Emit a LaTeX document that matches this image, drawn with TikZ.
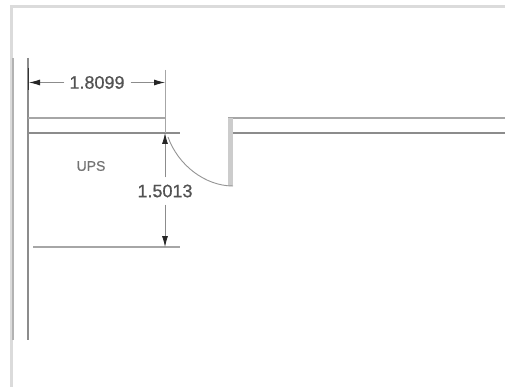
\documentclass[tikz,border=0pt]{standalone}
\usepackage{fontspec}
\setmainfont{Liberation Sans}
\newfontfamily\dimfont[FakeBold=0.6]{Liberation Sans}
\usetikzlibrary{arrows.meta}
\tikzset{
  frameline/.style={draw=black!14,line width=3pt},
  wall/.style={draw=black!45,line width=1.4pt},
  wallthick/.style={draw=black!30,line width=2.4pt},
  thin wall/.style={draw=black!35,line width=1.1pt},
  extline/.style={draw=black!35,line width=0.9pt},
  dimline/.style={draw=black!45,line width=0.8pt},
  dimtip/.style={-{Latex[length=11pt,width=6pt,black!85]}},
  dimtext/.style={font=\dimfont\fontsize{18}{20}\selectfont,text=black!68,inner sep=0pt},
  label text/.style={font=\dimfont\fontsize{14}{16}\selectfont,text=black!55,inner sep=0pt},
}
\begin{document}
\begin{tikzpicture}[x=1pt,y=-1pt]
\useasboundingbox (0,0) rectangle (505,387);
\fill[white] (0,0) rectangle (505,387);
% frame
\coordinate (f1) at (505,6.5);
\coordinate (f2) at (11,6.5);
\coordinate (f3) at (11,387);
\draw[frameline] (f1) -- (f2) -- (f3);
% walls
\coordinate (wo1) at (13,58);
\coordinate (wo2) at (13,340);
\coordinate (wi1) at (28,58);
\coordinate (wi2) at (28,340);
\draw[wallthick] (wo1) -- (wo2);
\draw[wall,line width=1.1pt] (wi1) -- (wi2);
\draw[draw=black!80,line width=1pt] (28,68) -- (28,90);
% corridor lines
\coordinate (a1) at (28,118);
\coordinate (a2) at (165,118);
\coordinate (b1) at (28,133);
\coordinate (b2) at (180,133);
\coordinate (c1) at (228,118);
\coordinate (c2) at (505,118);
\coordinate (d1) at (232,133);
\coordinate (d2) at (505,133);
\draw[thin wall] (a1) -- (a2);
\draw[wall,line width=1.5pt] (b1) -- (b2);
\draw[thin wall] (c1) -- (c2);
\draw[wall,line width=1.5pt] (d1) -- (d2);
% door jamb
\fill[black!20] (228,118) rectangle (233,186);
\coordinate (h1) at (168,137);
\coordinate (h2) at (233,186);
\draw[draw=black!42,line width=0.9pt] (h1) .. controls (178,165) and (205,186) .. (h2);
% bottom line
\coordinate (e1) at (33,247);
\coordinate (e2) at (180,247);
\draw[draw=black!35,line width=1.3pt] (e1) -- (e2);
% extension
\coordinate (x1) at (165,70);
\coordinate (x2) at (165,133);
\draw[extline] (x1) -- (x2);
% labels
\node[dimtext] (dimh) at (97,82.5) {1.8099};
\node[dimtext] (dimv) at (165,191) {1.5013};
\node[label text] (ups) at (91,166) {UPS};
% dimensions
\coordinate (lh) at (29,82.5);
\coordinate (rh) at (165,82.5);
\coordinate (tv) at (165,133);
\coordinate (bv) at (165,247);
\draw[dimline,dimtip] (dimh.west) ++(-5,0) -- (lh);
\draw[dimline,dimtip] (dimh.east) ++(6,0) -- (rh);
\draw[dimline,dimtip] (dimv.north) ++(0,-7) -- (tv);
\draw[dimline,dimtip] (dimv.south) ++(0,7) -- (bv);
\end{tikzpicture}
\end{document}
